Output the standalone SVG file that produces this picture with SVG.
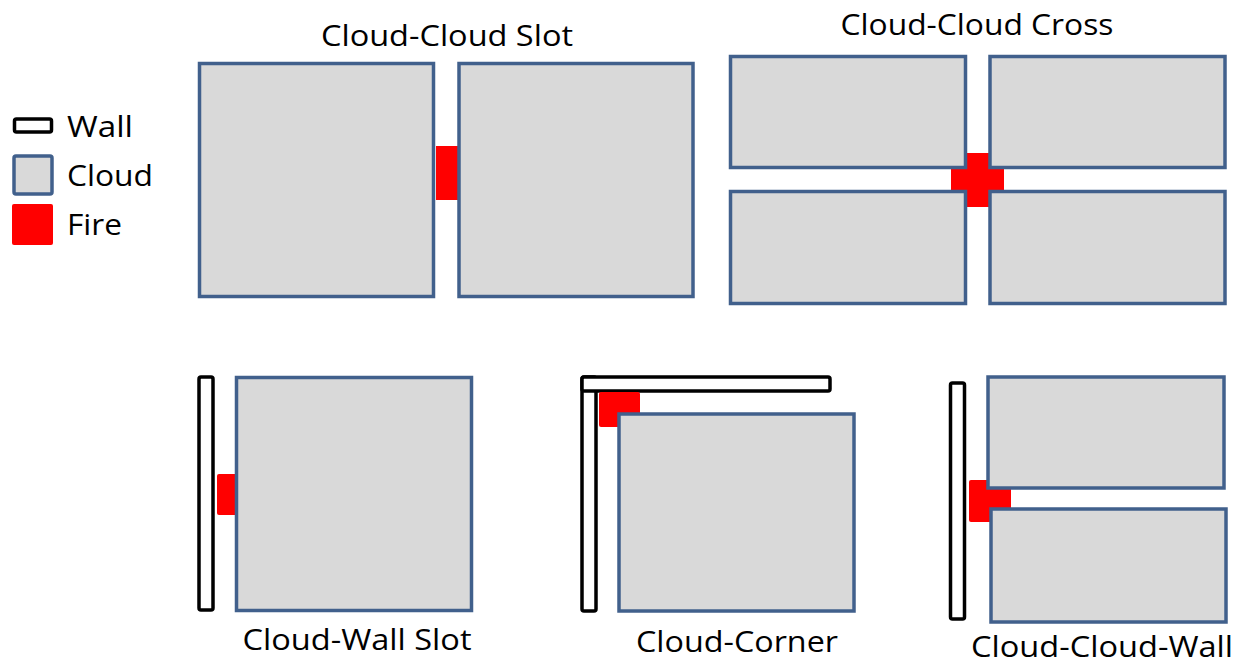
<svg xmlns="http://www.w3.org/2000/svg" width="1245" height="665" viewBox="0 0 1245 665">
<style>
.cloud{fill:#d9d9d9;stroke:#41608c;stroke-width:3.5}
.wall{fill:#fff;stroke:#000;stroke-width:3.5}
.fire{fill:#ff0000}
text{font-family:"Open Sans","Liberation Sans",sans-serif;font-size:30px;fill:#000}
.t{text-anchor:middle}
</style>
<rect width="1245" height="665" fill="#fff"/>
<g id="legend">
<rect class="wall" x="14.5" y="119" width="37" height="13" rx="2"/>
<text x="67" y="137" textLength="66" lengthAdjust="spacingAndGlyphs">Wall</text>
<rect class="cloud" x="14" y="156" width="38" height="38" rx="2"/>
<text x="67" y="186" textLength="86" lengthAdjust="spacingAndGlyphs">Cloud</text>
<rect class="fire" x="12" y="204" width="41" height="41" rx="2"/>
<text x="67" y="235" textLength="55" lengthAdjust="spacingAndGlyphs">Fire</text>
</g>
<g id="slot">
<text class="t" x="447" y="46" textLength="252" lengthAdjust="spacingAndGlyphs">Cloud-Cloud Slot</text>
<rect class="fire" x="436" y="146" width="22" height="54"/>
<rect class="cloud" x="199.5" y="63.5" width="234" height="233"/>
<rect class="cloud" x="459" y="63.5" width="234" height="233"/>
</g>
<g id="cross">
<text class="t" x="977" y="35" textLength="273" lengthAdjust="spacingAndGlyphs">Cloud-Cloud Cross</text>
<rect class="fire" x="966" y="153" width="24" height="54"/>
<rect class="fire" x="951" y="167" width="53" height="25"/>
<rect class="cloud" x="730.5" y="56.5" width="235" height="111"/>
<rect class="cloud" x="990" y="56.5" width="235" height="111"/>
<rect class="cloud" x="730.5" y="191.5" width="235" height="112"/>
<rect class="cloud" x="990" y="191.5" width="235" height="112"/>
</g>
<g id="wallslot">
<text class="t" x="357" y="650" textLength="229" lengthAdjust="spacingAndGlyphs">Cloud-Wall Slot</text>
<rect class="wall" x="199" y="377" width="14" height="233" rx="2"/>
<rect class="fire" x="217" y="474" width="20" height="41" rx="2"/>
<rect class="cloud" x="236.5" y="377.5" width="235" height="233"/>
</g>
<g id="corner">
<text class="t" x="737" y="652" textLength="202" lengthAdjust="spacingAndGlyphs">Cloud-Corner</text>
<rect class="wall" x="582" y="377" width="14" height="234" rx="2"/>
<rect class="wall" x="582" y="377" width="248" height="14" rx="2"/>
<rect class="fire" x="599" y="392" width="41" height="35" rx="2"/>
<rect class="cloud" x="619" y="414" width="235" height="197"/>
</g>
<g id="cloudcloudwall">
<text class="t" x="1102" y="657" font-size="29" textLength="262" lengthAdjust="spacingAndGlyphs">Cloud-Cloud-Wall</text>
<rect class="wall" x="950.5" y="383" width="14" height="236" rx="2"/>
<rect class="fire" x="969" y="480" width="42" height="42" rx="2"/>
<rect class="cloud" x="988" y="377" width="236" height="111"/>
<rect class="cloud" x="991" y="509" width="235" height="113"/>
</g>
</svg>
